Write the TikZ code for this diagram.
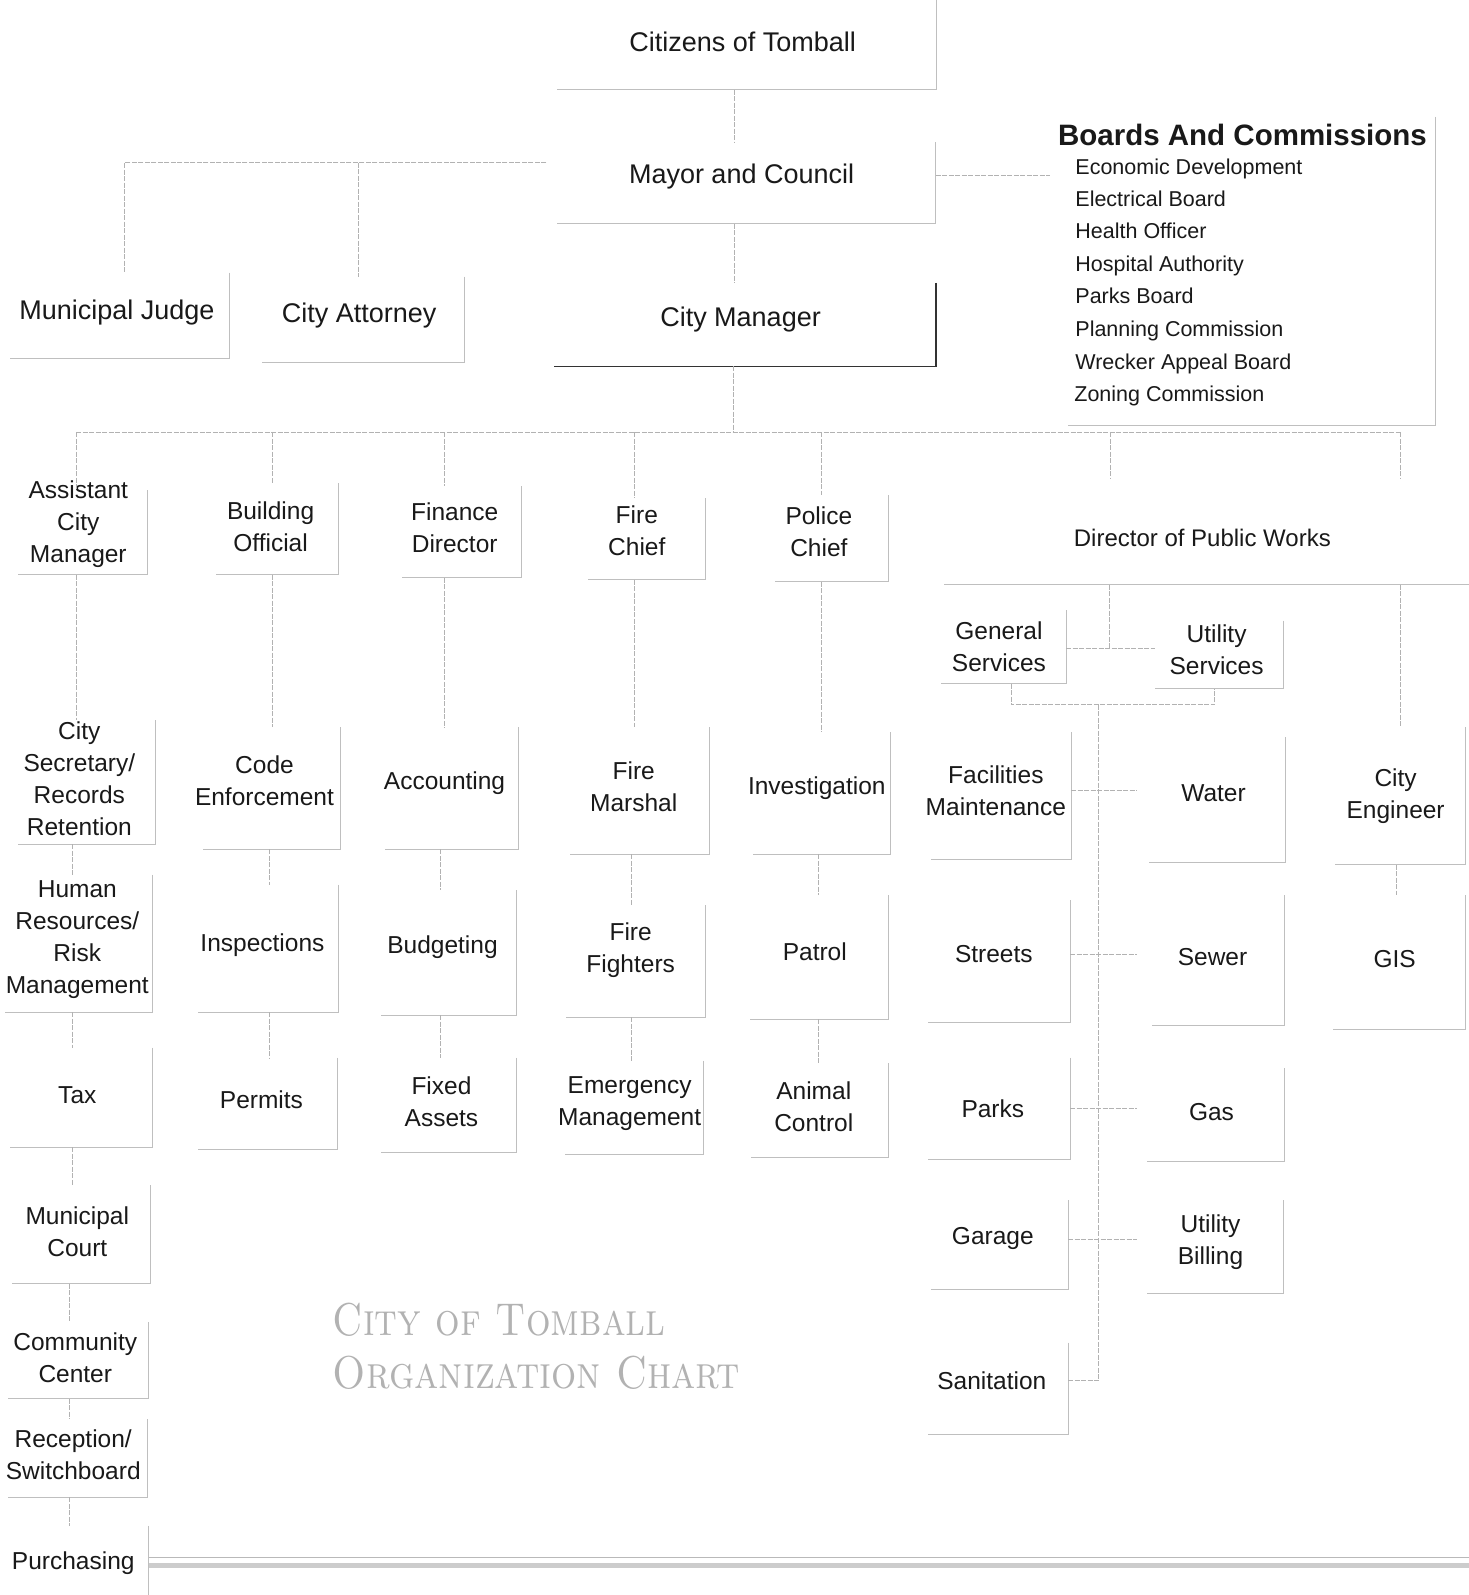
\documentclass[tikz,border=0pt]{standalone}
\usepackage{fontspec}
\newfontfamily\arialf{Liberation Sans}
\usetikzlibrary{fit}
\tikzset{
  lbl/.style={font=\arialf\fontsize{24.5}{32}\selectfont, align=center, inner sep=0pt, text=black!90},
  big/.style={font=\arialf\fontsize{27}{32}\selectfont, align=center, inner sep=0pt, text=black!90},
  item/.style={font=\arialf\fontsize{21.5}{32}\selectfont, anchor=west, inner sep=0pt, text=black!90, text height=16pt, text depth=4pt},
  edge/.style={draw=gray!50, line width=1pt},
  darkedge/.style={draw=black!80, line width=1.3pt},
  conn/.style={draw=gray!60, line width=0.9pt, dash pattern=on 5pt off 1.5pt},
  boxfit/.style={inner sep=0pt, outer sep=0pt, draw=none}
}
\newcommand\obox[6][edge]{%
  \coordinate (#2-a) at (#3,#4); \coordinate (#2-b) at (#5,#6);
  \node[boxfit, fit=(#2-a)(#2-b)] (#2) {};
  \draw[#1] (#2.north east) -- (#2.south east) -- (#2.south west);
}
\begin{document}
\begin{tikzpicture}[x=1.0173pt, y=-1.0173pt]
\fill[white] (0,0) rectangle (1444,1568);
\useasboundingbox (0,0) rectangle (1444,1568);

% ---------- top ----------
\obox{cit}{548}{0}{921}{88}
\obox{may}{548}{140}{920}{220}
\obox[darkedge]{cm}{545}{278}{920}{360}
\obox{bac}{1050}{115}{1411}{418}
\obox{mj}{10}{268}{226}{352}
\obox{ca}{258}{272}{457}{356}

\node[big] (cit-t) at (730,41) {Citizens of Tomball};
\node[big] (may-t) at (729,174) {Mayor and Council};
\node[big] (cm-t) at (728,314) {City Manager};
\node[big] (mj-t) at (115,307) {Municipal Judge};
\node[big] (ca-t) at (353,310) {City Attorney};

\node[anchor=west, inner sep=0pt, font=\arialf\bfseries\fontsize{29.5}{32}\selectfont, text=black!90] (bt) at (1040,133) {Boards And Commissions};
\node[item] (b1) at (1057,166) {Economic Development};
\node[item] (b2) at (1057,197) {Electrical Board};
\node[item] (b3) at (1057,229) {Health Officer};
\node[item] (b4) at (1057,261) {Hospital Authority};
\node[item] (b5) at (1057,292) {Parks Board};
\node[item] (b6) at (1057,325) {Planning Commission};
\node[item] (b7) at (1057,357) {Wrecker Appeal Board};
\node[item] (b8) at (1056,389) {Zoning Commission};

% ---------- department heads ----------
\obox{asst}{18}{482}{145}{565}
\obox{bo}{212}{475}{333}{565}
\obox{fd}{395}{478}{513}{568}
\obox{fc}{578}{490}{694}{570}
\obox{pc}{762}{487}{873}{572}
\obox{dpw}{928}{470}{1470}{575}

\node[lbl] (asst-t) at (77,515) {Assistant\\City\\Manager};
\node[lbl] (bo-t) at (266,518) {Building\\Official};
\node[lbl] (fd-t) at (447,519) {Finance\\Director};
\node[lbl] (fc-t) at (626,522) {Fire\\Chief};
\node[lbl] (pc-t) at (805,523) {Police\\Chief};
\node[font=\arialf\fontsize{24}{32}\selectfont, inner sep=0pt, text=black!90] (dpw-t) at (1182,529) {Director of Public Works};

% ---------- column 1 ----------
\obox{csec}{18}{708}{153}{830}
\obox{hr}{5}{860}{150}{995}
\obox{tax}{10}{1030}{150}{1128}
\obox{mc}{12}{1165}{148}{1262}
\obox{cc}{8}{1300}{146}{1375}
\obox{rs}{8}{1395}{145}{1472}
\obox{pur}{8}{1500}{146}{1620}

\node[lbl] (csec-t) at (78,766) {City\\Secretary/\\Records\\Retention};
\node[lbl] (hr-t) at (76,924) {Human\\Resources/\\Risk\\Management};
\node[lbl] (tax-t) at (76,1077) {Tax};
\node[lbl] (mc-t) at (76,1211) {Municipal\\Court};
\node[lbl] (cc-t) at (74,1335) {Community\\Center};
\node[lbl] (rs-t) at (72,1430) {Reception/\\Switchboard};
\node[lbl] (pur-t) at (72,1537) {Purchasing};

% ---------- column 2 ----------
\obox{ce}{200}{715}{335}{835}
\obox{ins}{195}{870}{333}{995}
\obox{per}{195}{1040}{332}{1130}
\node[lbl] (ce-t) at (260,768) {Code\\Enforcement};
\node[lbl] (ins-t) at (258,929) {Inspections};
\node[lbl] (per-t) at (257,1081) {Permits};

% ---------- column 3 ----------
\obox{acc}{378}{715}{510}{835}
\obox{bud}{375}{875}{508}{998}
\obox{fa}{375}{1040}{508}{1133}
\node[lbl] (acc-t) at (437,770) {Accounting};
\node[lbl] (bud-t) at (435,931) {Budgeting};
\node[lbl] (fa-t) at (434,1083) {Fixed\\Assets};

% ---------- column 4 ----------
\obox{fm}{560}{715}{697}{840}
\obox{ff}{556}{890}{694}{1000}
\obox{em}{555}{1043}{692}{1135}
\node[lbl] (fm-t) at (623,773) {Fire\\Marshal};
\node[lbl] (ff-t) at (620,934) {Fire\\Fighters};
\node[lbl] (em-t) at (619,1085) {Emergency\\Management};

% ---------- column 5 ----------
\obox{inv}{740}{720}{875}{840}
\obox{pat}{737}{880}{873}{1002}
\obox{ac}{738}{1045}{873}{1138}
\node[lbl] (inv-t) at (803,775) {Investigation};
\node[lbl] (pat-t) at (801,936) {Patrol};
\node[lbl] (ac-t) at (800,1088) {Animal\\Control};

% ---------- public works ----------
\obox{gs}{925}{600}{1048}{672}
\obox{us}{1135}{610}{1262}{677}
\obox{fac}{915}{720}{1053}{845}
\obox{wat}{1130}{725}{1264}{848}
\obox{str}{912}{885}{1052}{1005}
\obox{sew}{1132}{880}{1263}{1008}
\obox{prk}{912}{1040}{1052}{1140}
\obox{gas}{1128}{1050}{1263}{1142}
\obox{gar}{915}{1180}{1050}{1268}
\obox{ub}{1128}{1180}{1262}{1272}
\obox{san}{912}{1320}{1050}{1410}
\obox{ceng}{1312}{715}{1441}{850}
\obox{gis}{1310}{880}{1441}{1012}

\node[lbl] (gs-t) at (982,636) {General\\Services};
\node[lbl] (us-t) at (1196,639) {Utility\\Services};
\node[lbl] (fac-t) at (979,777) {Facilities\\Maintenance};
\node[lbl] (wat-t) at (1193,780) {Water};
\node[lbl] (str-t) at (977,938) {Streets};
\node[lbl] (sew-t) at (1192,941) {Sewer};
\node[lbl] (prk-t) at (976,1090) {Parks};
\node[lbl] (gas-t) at (1191,1093) {Gas};
\node[lbl] (gar-t) at (976,1218) {Garage};
\node[lbl] (ub-t) at (1190,1221) {Utility\\Billing};
\node[lbl] (san-t) at (975,1357) {Sanitation};
\node[lbl] (ceng-t) at (1372,783) {City\\Engineer};
\node[lbl] (gis-t) at (1371,943) {GIS};

% ---------- title ----------
\node[anchor=west, align=left, inner sep=0pt, text=gray!60,
      font=\rmfamily\scshape\fontsize{46}{53}\selectfont] (title) at (327,1323)
      {\scalebox{0.84}[1]{City of Tomball}\\\scalebox{0.86}[1]{Organization Chart}};

% ---------- connector positions ----------
\coordinate (mx) at (722,0);
\coordinate (lbus) at (537,160);
\coordinate (mr) at (920,172);
\coordinate (mre) at (1032,172);
\coordinate (bus) at (721,425);
\coordinate (k1a) at (75,0);
\coordinate (k1) at (71,0);
\coordinate (k1b) at (68,0);
\coordinate (k2) at (268,0);
\coordinate (k2b) at (265,0);
\coordinate (k3) at (437,0);
\coordinate (k3b) at (433,0);
\coordinate (k4) at (624,0);
\coordinate (k4b) at (621,0);
\coordinate (k5) at (808,0);
\coordinate (k5b) at (805,0);
\coordinate (kd) at (1092,0);
\coordinate (ke) at (1377,0);
\coordinate (kg) at (1373,0);
\coordinate (kj) at (122,0);
\coordinate (ka) at (352,0);
\coordinate (pj) at (1091,637);
\coordinate (gj) at (994,693);
\coordinate (uj) at (1194,693);
\coordinate (sp) at (1080,693);
\coordinate (bre) at (1118,0);

% ---------- connectors ----------
\draw[conn] (cit.south -| mx) -- (may.north -| mx);
\draw[conn] (may.south -| mx) -- (cm.north -| mx);
\draw[conn] (lbus) -- (lbus -| kj) -- (mj.north -| kj);
\draw[conn] (lbus -| ka) -- (ca.north -| ka);
\draw[conn] (mr) -- (mre);
\draw[conn] (cm.south -| bus) -- (bus);
\draw[conn] (bus -| k1a) -- (bus -| ke);
\draw[conn] (bus -| k1a) -- (asst.north -| k1a);
\draw[conn] (bus -| k2) -- (bo.north -| k2);
\draw[conn] (bus -| k3) -- (fd.north -| k3);
\draw[conn] (bus -| k4) -- (fc.north -| k4);
\draw[conn] (bus -| k5) -- (pc.north -| k5);
\draw[conn] (bus -| kd) -- (dpw.north -| kd);
\draw[conn] (bus -| ke) -- (dpw.north -| ke);

\draw[conn] (asst.south -| k1a) -- (csec.north -| k1a);
\draw[conn] (csec.south -| k1) -- (hr.north -| k1);
\draw[conn] (hr.south -| k1) -- (tax.north -| k1);
\draw[conn] (tax.south -| k1) -- (mc.north -| k1);
\draw[conn] (mc.south -| k1b) -- (cc.north -| k1b);
\draw[conn] (cc.south -| k1b) -- (rs.north -| k1b);
\draw[conn] (rs.south -| k1b) -- (pur.north -| k1b);

\draw[conn] (bo.south -| k2) -- (ce.north -| k2);
\draw[conn] (ce.south -| k2b) -- (ins.north -| k2b);
\draw[conn] (ins.south -| k2b) -- (per.north -| k2b);

\draw[conn] (fd.south -| k3) -- (acc.north -| k3);
\draw[conn] (acc.south -| k3b) -- (bud.north -| k3b);
\draw[conn] (bud.south -| k3b) -- (fa.north -| k3b);

\draw[conn] (fc.south -| k4) -- (fm.north -| k4);
\draw[conn] (fm.south -| k4b) -- (ff.north -| k4b);
\draw[conn] (ff.south -| k4b) -- (em.north -| k4b);

\draw[conn] (pc.south -| k5) -- (inv.north -| k5);
\draw[conn] (inv.south -| k5b) -- (pat.north -| k5b);
\draw[conn] (pat.south -| k5b) -- (ac.north -| k5b);

\draw[conn] (dpw.south -| pj) -- (pj);
\draw[conn] (gs.east |- pj) -- (us.west |- pj);
\draw[conn] (gs.south -| gj) -- (gj) -- (uj) -- (us.south -| uj);
\draw[conn] (sp) -- (sp |- san-t);
\draw[conn] (san.east |- san-t) -- (sp |- san-t);
\draw[conn] (fac.east |- fac-t) -- (bre |- fac-t);
\draw[conn] (str.east |- str-t) -- (bre |- str-t);
\draw[conn] (prk.east |- prk-t) -- (bre |- prk-t);
\draw[conn] (gar.east |- gar-t) -- (bre |- gar-t);
\draw[conn] (dpw.south -| ke) -- (ceng.north -| ke);
\draw[conn] (ceng.south -| kg) -- (gis.north -| kg);

% ---------- bottom band ----------
\draw[gray!55, line width=0.8pt] (146,1531) -- (1444,1531);
\draw[gray!40, line width=5pt] (146,1539) -- (1444,1539);
\end{tikzpicture}
\end{document}
